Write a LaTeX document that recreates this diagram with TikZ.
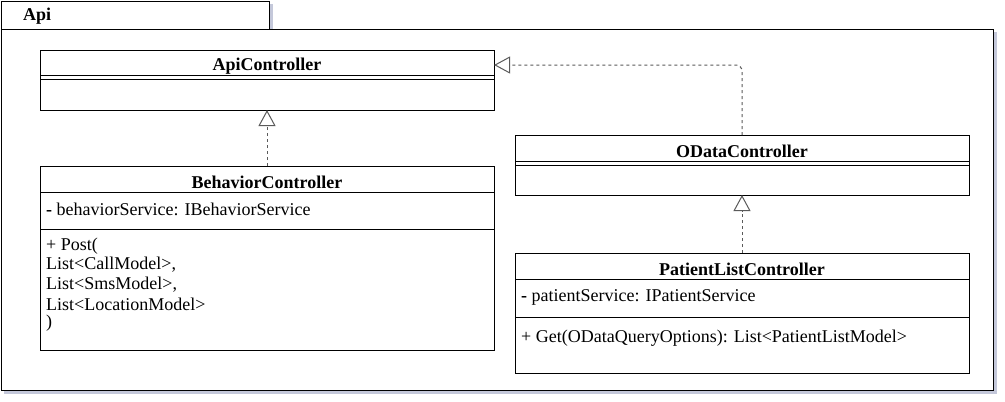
\documentclass[tikz,border=0pt]{standalone}
\usepackage{fontspec}
\setmainfont{Liberation Serif}
\usetikzlibrary{arrows.meta}
\definecolor{shadowc}{RGB}{196,200,218}
\definecolor{dashc}{RGB}{90,90,90}
\tikzset{
  box/.style={draw=black, line width=1pt, fill=white},
  sep/.style={draw=black, line width=1pt},
  title/.style={font=\fontsize{18}{20}\selectfont\bfseries, anchor=center, inner sep=0pt},
  txt/.style={font=\fontsize{18}{20}\selectfont, anchor=west, inner sep=0pt},
  realize/.style={draw=dashc, line width=1pt, dash pattern=on 3pt off 3pt, -{Triangle[open, length=16pt, width=17pt, line width=1pt, fill=white]}},
}
\begin{document}
\begin{tikzpicture}[x=1pt,y=-1pt]
\useasboundingbox (0,0) rectangle (1005,402);
% shadow
\fill[shadowc] (4,32) rectangle (997,394);
\fill[shadowc] (4,4) rectangle (273,32);
% package
\draw[box] (1,29) rectangle (993,390);
\draw[box] (1,1) rectangle (269,29);
\node[title, anchor=west] (pkg) at (23,16) {Api};

% ApiController
\draw[box] (40,50) rectangle (494,110);
\draw[sep] (40,75) -- (494,75);
\draw[sep] (40,79) -- (494,79);
\node[title] (apit) at (267,66) {ApiController};
\coordinate (apibot) at (267,110);
\coordinate (apiright) at (494,65);

% BehaviorController
\draw[box] (40,166) rectangle (494,350);
\draw[sep] (40,192) -- (494,192);
\draw[sep] (40,229) -- (494,229);
\node[title] (beht) at (267,182) {BehaviorController};
\coordinate (behtop) at (267,166);
\node[txt] (beha) at (46,209) {\textbf{-} behaviorService: IBehaviorService};
\node[txt] (behm1) at (46,246) {+ Post(};
\node[txt] (behm2) at (46,265) {List<CallModel>,};
\node[txt] (behm3) at (46,285) {List<SmsModel>,};
\node[txt] (behm4) at (46,304) {List<LocationModel>};
\node[txt] (behm5) at (46,323) {)};

% ODataController
\draw[box] (515,135) rectangle (969,195);
\draw[sep] (515,161) -- (969,161);
\draw[sep] (515,165) -- (969,165);
\node[title] (odt) at (742,151) {ODataController};
\coordinate (odtop) at (742,135);
\coordinate (odbot) at (742,195);

% PatientListController
\draw[box] (515,253) rectangle (969,373);
\draw[sep] (515,279) -- (969,279);
\draw[sep] (515,317) -- (969,317);
\node[title] (plt) at (742,269) {PatientListController};
\coordinate (pltop) at (742,253);
\node[txt] (pla) at (521,297) {\textbf{-} patientService: IPatientService};
\node[txt] (plm) at (521,338) {+ Get(ODataQueryOptions): List<PatientListModel>};

% connectors
\draw[realize] (behtop) -- (apibot);
\draw[realize] (pltop) -- (odbot);
\draw[realize, rounded corners=6pt] (odtop) |- (apiright);
\end{tikzpicture}
\end{document}
